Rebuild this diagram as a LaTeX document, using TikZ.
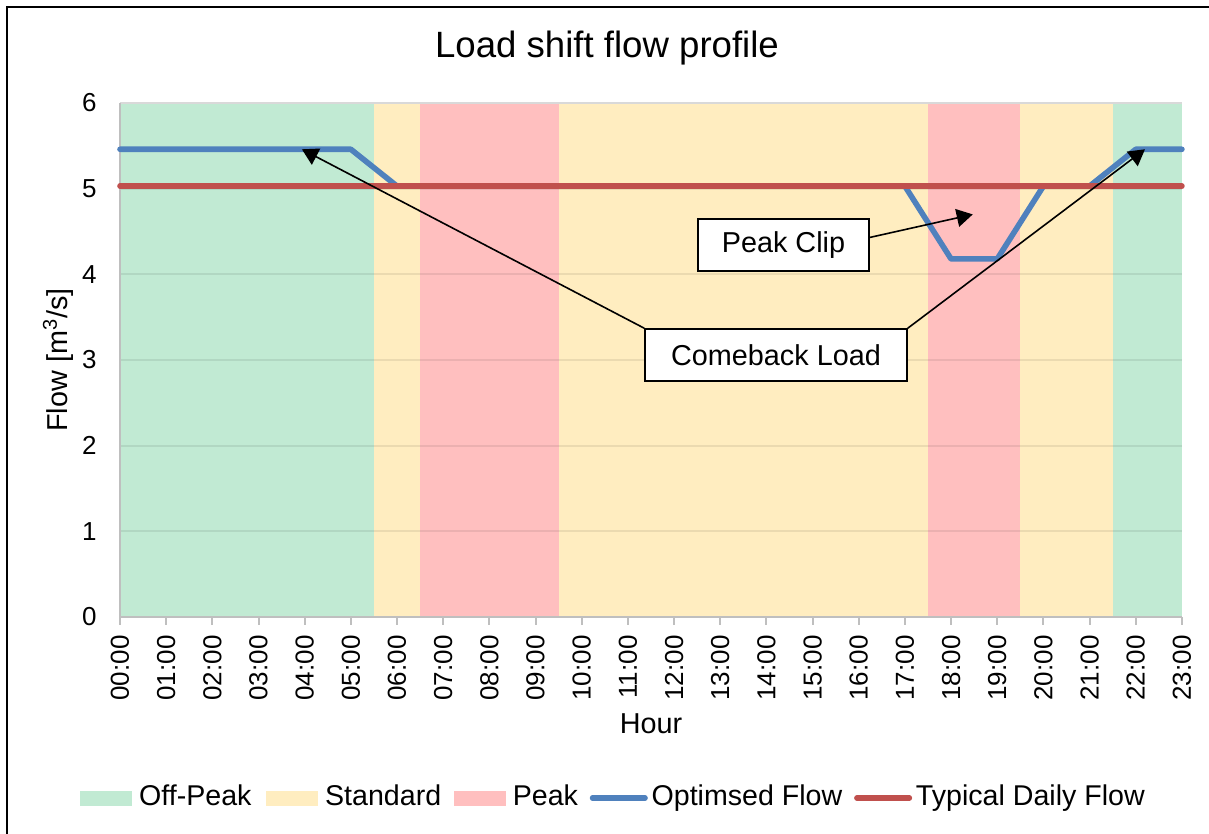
\documentclass[tikz,border=0pt]{standalone}
\usepackage{fontspec}
\setmainfont{Liberation Sans}
\usetikzlibrary{arrows.meta,positioning}

\definecolor{offpeak}{RGB}{193,234,211}
\definecolor{standard}{RGB}{255,237,192}
\definecolor{peak}{RGB}{255,191,191}
\definecolor{optflow}{RGB}{79,129,189}
\definecolor{typflow}{RGB}{192,80,77}
\definecolor{axisgray}{RGB}{191,191,191}
\definecolor{gridgray}{RGB}{217,217,217}

\tikzset{
  ticklabel/.style={font=\fontsize{13}{15}\selectfont, inner sep=0pt},
  axistitle/.style={font=\fontsize{14.4}{17}\selectfont, inner sep=0pt},
  legtext/.style={font=\fontsize{14.3}{17}\selectfont, inner sep=0pt,
                  text height=0.72em, text depth=0pt},
  legbox/.style={minimum width=26pt, minimum height=7.5pt, inner sep=0pt},
  legline/.style={line width=2.6pt, line cap=round},
  flowline/.style={line width=2.8pt, line cap=round, line join=round},
  callout/.style={draw, line width=0.8pt, fill=white, minimum height=26pt,
                  inner sep=0pt, font=\fontsize{14.4}{17}\selectfont},
}

\begin{document}
\begin{tikzpicture}[x=0.5pt,y=-0.5pt,>={Triangle[length=8pt,width=9pt]}]
  \useasboundingbox (0,0) rectangle (1209,834);
  \fill[white] (0,0) rectangle (1209,834);
  \draw[line width=1pt] (7,834) -- (7,7) -- (1209,7);

  \node[font=\fontsize{18.3}{22}\selectfont] (title) at (607,48) {Load shift flow profile};

  % chart area: x in hours, y in m^3/s
  \begin{scope}[shift={(120,617)}, x=23.085pt, y=42.83pt]
    % tariff periods
    \fill[offpeak]  (0,0)    rectangle (5.5,6);
    \fill[standard] (5.5,0)  rectangle (6.5,6);
    \fill[peak]     (6.5,0)  rectangle (9.5,6);
    \fill[standard] (9.5,0)  rectangle (17.5,6);
    \fill[peak]     (17.5,0) rectangle (19.5,6);
    \fill[standard] (19.5,0) rectangle (21.5,6);
    \fill[offpeak]  (21.5,0) rectangle (23,6);

    \foreach \f in {1,...,5}
      \draw[black, opacity=0.08, line width=1pt] (0,\f) -- (23,\f);
    \draw[gridgray, line width=1pt] (0,6) -- (23,6);

    % axes
    \draw[axisgray, line width=1pt] (0,6) -- (0,0) -- (23,0);
    \foreach \h in {0,...,23} {
      \draw[axisgray, line width=1pt] (\h,0) -- ++(0pt,-3.8pt);
      \node[ticklabel, rotate=90, anchor=east] (hr\h) at ([yshift=-9pt]\h,0)
        {\ifnum\h<10 0\fi\h:00};
    }
    \foreach \f in {0,...,6}
      \node[ticklabel, anchor=east] (fl\f) at ([xshift=-11.5pt]0,\f) {\f};

    % flow series
    \draw[flowline, optflow] (0,5.46) -- (5,5.46) -- (6,5.03) -- (17,5.03)
      -- (18,4.18) -- (19,4.18) -- (20,5.03) -- (21,5.03) -- (22,5.46) -- (23,5.46);
    \draw[flowline, typflow] (0,5.03) -- (23,5.03);

    \coordinate (cliptip) at (18.47,4.70);
    \coordinate (morningtip) at (3.94,5.46);
    \coordinate (eveningtip) at (22.2,5.46);
  \end{scope}

  \node[axistitle] (xtitle) at (651,724) {Hour};
  \node[axistitle, rotate=90] (ytitle) at (58,360) {Flow [m\textsuperscript{3}/s]};

  % callouts
  \node[callout, minimum width=85.5pt] (peakclip) at (783.5,245) {Peak Clip};
  \node[callout, minimum width=131pt] (comeback) at (776,355) {Comeback Load};
  \draw[->, line width=0.8pt] (peakclip.5) -- (cliptip);
  \draw[->, line width=0.8pt] (comeback.north west) -- (morningtip);
  \draw[->, line width=0.8pt] (comeback.north east) -- (eveningtip);

  % legend
  \node[legbox, fill=offpeak, anchor=west] (lgoff) at (80,798) {};
  \node[legtext, right=3pt of lgoff] (lgofftxt) {Off-Peak};
  \node[legbox, fill=standard, right=7pt of lgofftxt] (lgstd) {};
  \node[legtext, right=3pt of lgstd] (lgstdtxt) {Standard};
  \node[legbox, fill=peak, right=6pt of lgstdtxt] (lgpeak) {};
  \node[legtext, right=3pt of lgpeak] (lgpeaktxt) {Peak};
  \node[legbox, right=7pt of lgpeaktxt] (lgopt) {};
  \draw[legline, optflow] (lgopt.west) -- (lgopt.east);
  \node[legtext, right=3pt of lgopt] (lgopttxt) {Optimsed Flow};
  \node[legbox, right=7pt of lgopttxt] (lgtyp) {};
  \draw[legline, typflow] (lgtyp.west) -- (lgtyp.east);
  \node[legtext, right=3pt of lgtyp] (lgtyptxt) {Typical Daily Flow};
\end{tikzpicture}
\end{document}
